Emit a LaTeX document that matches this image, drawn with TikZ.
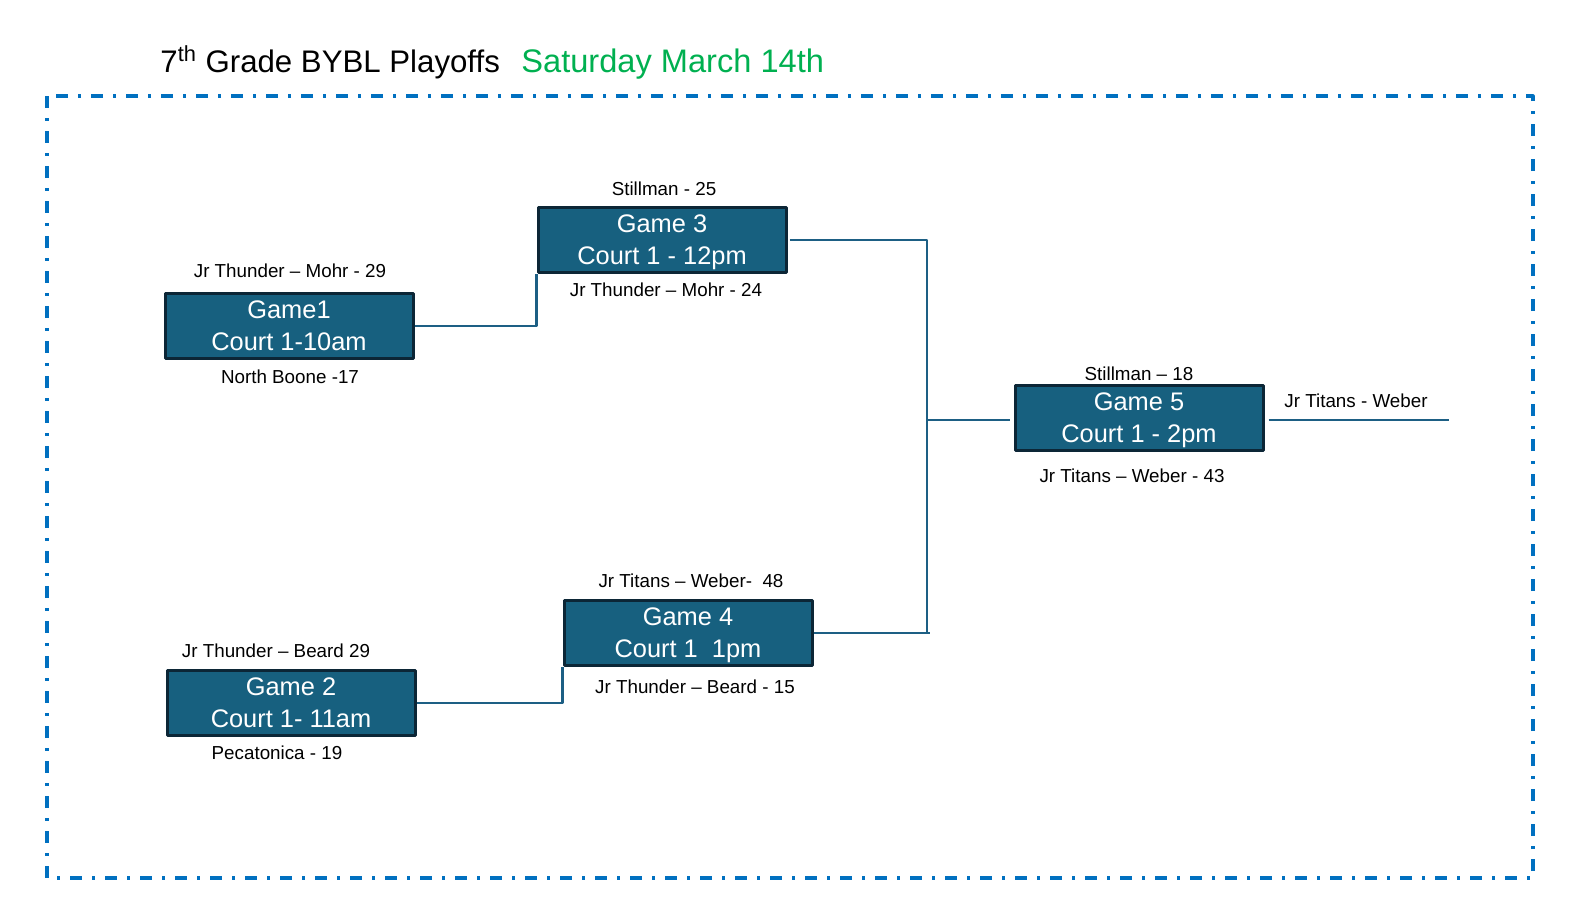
\documentclass[tikz,border=0pt]{standalone}
\usepackage{fontspec}
\setmainfont{Liberation Sans}
\usetikzlibrary{positioning}
\definecolor{gamefill}{HTML}{17607F}
\definecolor{gameedge}{HTML}{0C2636}
\definecolor{bracketblue}{HTML}{1D5F84}
\definecolor{frameblue}{HTML}{0070C0}
\definecolor{dategreen}{HTML}{00B050}
\tikzset{
  game/.style={draw=gameedge, line width=1.5pt, fill=gamefill, text=white,
    minimum width=124pt, minimum height=32.5pt, inner sep=0pt, align=center,
    text depth=0pt, font=\fontsize{12.7}{16}\selectfont},
  team/.style={anchor=base, inner sep=0pt, font=\fontsize{9.4}{11}\selectfont},
  wire/.style={draw=bracketblue, line width=1.4pt}
}

\begin{document}
\begin{tikzpicture}[x=0.5pt, y=-0.5pt, line join=round]
    \useasboundingbox (0,0) rectangle (1572,922);

    % title line
    \node[anchor=base west, inner sep=0pt, font=\fontsize{15.6}{18}\selectfont] (title) at (160,72) {7\textsuperscript{th} Grade BYBL Playoffs};
    \node[anchor=base west, inner sep=0pt, text=dategreen, font=\fontsize{16.3}{18}\selectfont] (date) at (521,72) {Saturday March 14th};

    \draw[frameblue, line width=1.6pt, dash pattern=on 6pt off 5pt on 1.5pt off 5pt] (47,96) rectangle (1533,878);

    \node[game] (g1) at (289,326) {Game1\\Court 1-10am};
    \node[game] (g2) at (291,703) {Game 2\\Court 1- 11am};
    \node[game] (g3) at (662,240) {Game 3\\Court 1 - 12pm};
    \node[game] (g4) at (688,633) {Game 4\\Court 1~ 1pm};
    \node[game] (g5) at (1139,418) {Game 5\\Court 1 - 2pm};

    \coordinate (q3) at (927,240);
    \coordinate (q4) at (930,633);
    \coordinate (champ) at (1449,420);

    \draw[wire] (g1.east) -| (g3.south west);
    \draw[wire] (g2.east) -| (g4.south west);
    \draw[wire] ([xshift=1pt]g3.east) -- (q3) -- (q3 |- q4);
    \draw[wire] (g4.east) -- (q4);
    \draw[wire] (q3 |- champ) -- ([xshift=-2pt]g5.west |- champ);
    \draw[wire] ([xshift=2pt]g5.east |- champ) -- (champ);

    \node[team] (t1a) at (290,277) {Jr Thunder – Mohr - 29};
    \node[team] (t1b) at (290,383) {North Boone -17};
    \node[team] (t2a) at (276,657) {Jr Thunder – Beard 29};
    \node[team] (t2b) at (277,759) {Pecatonica - 19};
    \node[team] (t3a) at (664,195) {Stillman - 25};
    \node[team] (t3b) at (666,296) {Jr Thunder – Mohr - 24};
    \node[team] (t4a) at (691,587) {Jr Titans – Weber-~ 48};
    \node[team] (t4b) at (695,693) {Jr Thunder – Beard - 15};
    \node[team] (t5a) at (1139,380) {Stillman – 18};
    \node[team] (t5b) at (1132,482) {Jr Titans – Weber - 43};
    \node[team] (champion) at (1356,407) {Jr Titans - Weber};
\end{tikzpicture}
\end{document}
